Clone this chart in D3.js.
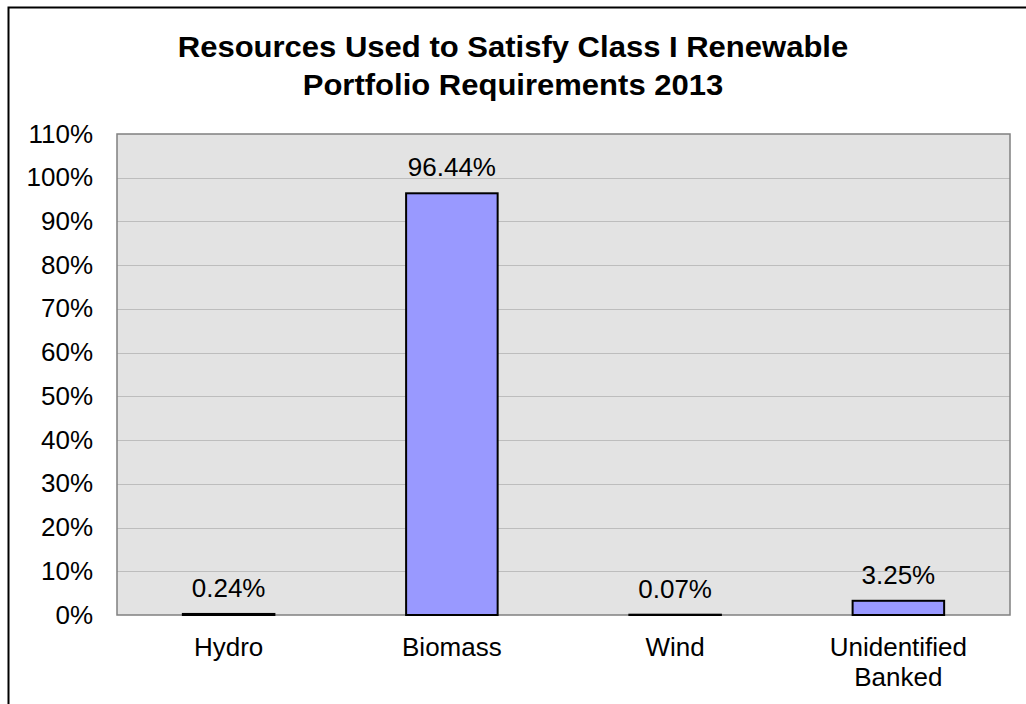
<!DOCTYPE html>
<html>
<head>
<meta charset="utf-8">
<script src="https://cdn.jsdelivr.net/npm/d3@7"></script>
<style>
  html, body { margin: 0; padding: 0; background: #fff; }
  svg { display: block; }
  text { font-family: "Liberation Sans", Arial, sans-serif; fill: #000; }
</style>
</head>
<body>
<script>
// Chart data
const categories = ["Hydro", "Biomass", "Wind", "Unidentified Banked"];
const shares = [0.24, 96.44, 0.07, 3.25];
const valueLabels = ["0.24%", "96.44%", "0.07%", "3.25%"];
const yTicks = [0, 10, 20, 30, 40, 50, 60, 70, 80, 90, 100, 110];
const titleLines = ["Resources Used to Satisfy Class I Renewable", "Portfolio Requirements 2013"];

const W = 1026, H = 704;
const plot = { left: 117, top: 134, right: 1010, bottom: 615 };
const FS = 25, SX = 1.04;          // body text size and slight horizontal widening
const TFS = 29, TSX = 1.07;        // title text

const svg = d3.select("body").append("svg").attr("width", W).attr("height", H);

// Place a (possibly multi-line) text at x,y with horizontal widening
function label(parent, x, y, lines, opts) {
  const g = parent.append("g").attr("transform", `translate(${x},${y}) scale(${opts.sx},1)`);
  const t = g.append("text").attr("text-anchor", opts.anchor || "middle")
    .attr("font-size", opts.size).attr("font-weight", opts.weight || "normal");
  t.selectAll("tspan").data(lines).join("tspan")
    .attr("x", 0).attr("y", (d, i) => i * (opts.lh || 0))
    .text(d => d);
  return g;
}

// Outer frame (only top and left edges fall inside the view)
svg.append("rect")
  .attr("x", 8.5).attr("y", 7.5)
  .attr("width", 1030).attr("height", 720)
  .attr("fill", "none").attr("stroke", "#000").attr("stroke-width", 2);

// Title
label(svg, 513, 57, titleLines, { size: TFS, sx: TSX, weight: "bold", lh: 38 });

const x = d3.scaleBand().domain(categories).range([plot.left, plot.right]).paddingInner(0.59).paddingOuter(0.295);
const y = d3.scaleLinear().domain([0, 110]).range([plot.bottom, plot.top]);

// Plot background
svg.append("rect")
  .attr("x", plot.left).attr("y", plot.top)
  .attr("width", plot.right - plot.left).attr("height", plot.bottom - plot.top)
  .attr("fill", "#e3e3e3");

// Gridlines
svg.append("g").selectAll("line").data(yTicks.filter(t => t > 0 && t < 110)).join("line")
  .attr("x1", plot.left).attr("x2", plot.right)
  .attr("y1", d => Math.round(y(d)) + 0.5).attr("y2", d => Math.round(y(d)) + 0.5)
  .attr("stroke", "#bdbdbd").attr("stroke-width", 1);

// Plot border
svg.append("rect")
  .attr("x", plot.left).attr("y", plot.top)
  .attr("width", plot.right - plot.left).attr("height", plot.bottom - plot.top)
  .attr("fill", "none").attr("stroke", "#808080").attr("stroke-width", 1.5);

// Y axis labels
const yAxis = d3.axisLeft(y).tickValues(yTicks).tickFormat(d => d + "%").tickSize(0).tickPadding(23);
const yg = svg.append("g").attr("transform", `translate(${plot.left},0)`).call(yAxis);
yg.select(".domain").remove();
yg.selectAll("text")
  .attr("font-size", FS).attr("font-family", "Liberation Sans, Arial, sans-serif").attr("fill", "#000")
  .attr("transform", `scale(${SX},1)`);

// Bars
svg.append("g").selectAll("rect").data(shares).join("rect")
  .attr("x", (d, i) => x(categories[i]))
  .attr("y", d => y(d))
  .attr("width", x.bandwidth())
  .attr("height", d => y(0) - y(d))
  .attr("fill", "#9999ff")
  .attr("stroke", "#000").attr("stroke-width", 2);

// Value labels above bars
const vg = svg.append("g");
shares.forEach((d, i) => {
  label(vg, x(categories[i]) + x.bandwidth() / 2, y(d) - 17, [valueLabels[i]], { size: FS, sx: SX });
});

// Category labels (long name wraps onto two lines)
const catLines = c => c === "Unidentified Banked" ? ["Unidentified", "Banked"] : [c];
const cg = svg.append("g");
categories.forEach(c => {
  label(cg, x(c) + x.bandwidth() / 2, 656, catLines(c), { size: FS, sx: SX, lh: 30.5 });
});
</script>
</body>
</html>
